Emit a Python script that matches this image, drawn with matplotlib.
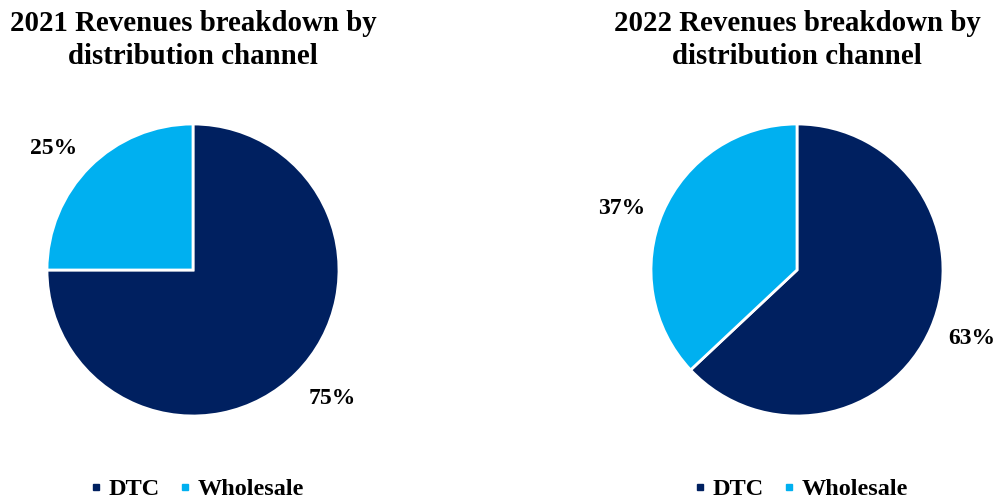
import numpy as np
import matplotlib.pyplot as plt
from matplotlib.lines import Line2D
from matplotlib.transforms import offset_copy

plt.rcParams['font.family'] = ['Liberation Serif', 'DejaVu Serif']
plt.rcParams['font.weight'] = 'bold'

channels = ['DTC', 'Wholesale']
years = ['2021', '2022']
shares = {
    '2021': [75, 25],
    '2022': [63, 37],
}
colors = ['#002060', '#00B0F0']

fig = plt.figure(figsize=(10, 5), dpi=100)

centers_px = [193, 797]
radius_px = 146
cy_px = 270

for year, cx in zip(years, centers_px):
    ax = fig.add_axes([(cx - radius_px) / 1000, (500 - cy_px - radius_px) / 500,
                       2 * radius_px / 1000, 2 * radius_px / 500])
    wedges, _ = ax.pie(shares[year], colors=colors, startangle=90, counterclock=False,
                       radius=1, wedgeprops=dict(edgecolor='white', linewidth=2))
    # percentage labels just outside each wedge
    lbl_tr = offset_copy(ax.transData, fig=fig, x=0, y=-2.5, units='points')
    for w, v in zip(wedges, shares[year]):
        ang = np.deg2rad((w.theta1 + w.theta2) / 2 + 3)
        ax.text(1.28 * np.cos(ang), 1.28 * np.sin(ang), f'{v}%', transform=lbl_tr,
                ha='center', va='center', fontsize=17, fontweight='bold')
    ax.set_xlim(-1, 1)
    ax.set_ylim(-1, 1)
    ax.set_aspect('auto')
    ax.axis('off')

    fig.text(cx / 1000, 1 - 40 / 500,
             f'{year} Revenues breakdown by\ndistribution channel',
             ha='center', va='center', fontsize=20.8, fontweight='bold',
             linespacing=1.25)

    handles = [Line2D([], [], marker='s', linestyle='none', markersize=5,
                      markerfacecolor=c, markeredgecolor=c) for c in colors]
    fig.legend(handles, channels, loc='center', ncol=2,
               bbox_to_anchor=((cx + 4) / 1000, 1 - 489 / 500),
               frameon=False, handlelength=0.5, handletextpad=0.25,
               columnspacing=0.82, borderpad=0, prop=dict(size=17.5, weight='bold'))

fig.savefig('out.png', dpi=100, facecolor='white')
